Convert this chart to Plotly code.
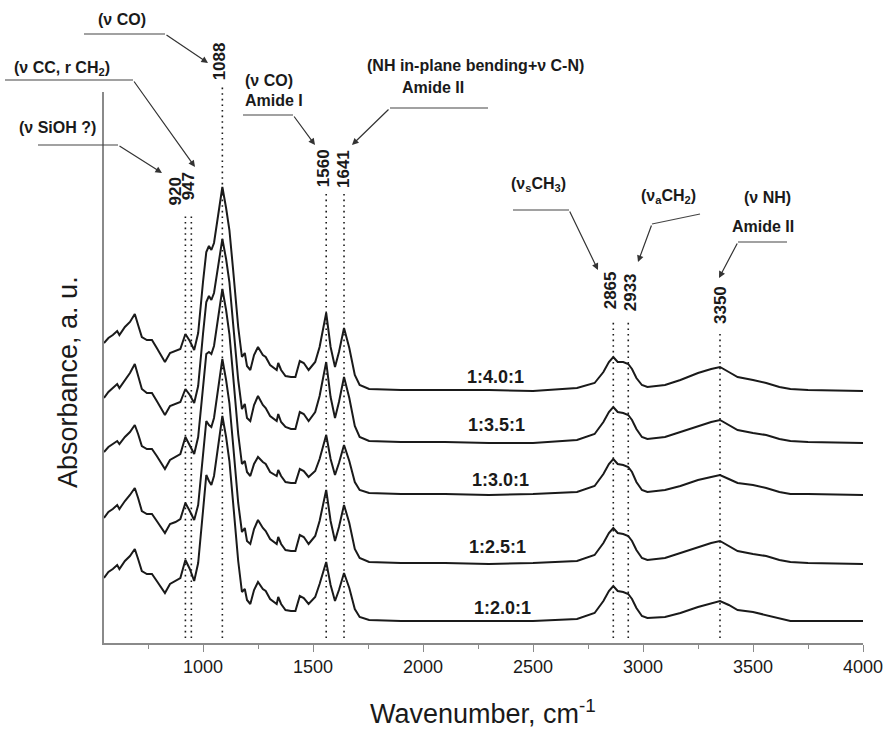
import plotly.graph_objects as go

# ---- spectral data (absorbance above each trace's own baseline, a.u.) ----
wavenumber = [
    550, 570, 590, 610, 620, 645, 668, 690, 705, 722,
    745, 768, 790, 827, 850, 875, 897, 920, 940, 960,
    978, 1000, 1015, 1027, 1038, 1050, 1065, 1088, 1105, 1120,
    1137, 1160, 1177, 1190, 1200, 1215, 1232, 1250, 1272, 1285,
    1305, 1335, 1342, 1355, 1375, 1400, 1420, 1440, 1458, 1480,
    1510, 1530, 1560, 1580, 1600, 1618, 1641, 1665, 1690, 1712,
    1755, 1900, 2100, 2300, 2500, 2700, 2780, 2820, 2845, 2865,
    2885, 2910, 2933, 2950, 2970, 2995, 3020, 3100, 3170, 3250,
    3310, 3350, 3390, 3430, 3500, 3560, 3620, 3670, 3750, 4000,
]

abs_1_40_1 = [
    0.47, 0.52, 0.55, 0.59, 0.55, 0.63, 0.68, 0.76, 0.65, 0.53,
    0.50, 0.50, 0.42, 0.28, 0.37, 0.39, 0.41, 0.56, 0.49, 0.40,
    0.57, 1.08, 1.38, 1.44, 1.40, 1.47, 1.70, 2.03, 1.82, 1.60,
    1.20, 0.63, 0.33, 0.37, 0.24, 0.20, 0.35, 0.43, 0.35, 0.33,
    0.25, 0.20, 0.27, 0.20, 0.14, 0.13, 0.13, 0.29, 0.27, 0.20,
    0.28, 0.43, 0.77, 0.43, 0.23, 0.38, 0.62, 0.42, 0.15, 0.05,
    0.01, 0.00, 0.00, 0.00, -0.01, 0.02, 0.07, 0.18, 0.28, 0.33,
    0.28, 0.28, 0.26, 0.21, 0.12, 0.05, 0.03, 0.05, 0.10, 0.17,
    0.21, 0.23, 0.18, 0.13, 0.10, 0.07, 0.03, 0.01, 0.00, -0.01,
]
abs_1_35_1 = [
    0.44, 0.50, 0.54, 0.58, 0.54, 0.62, 0.69, 0.78, 0.66, 0.53,
    0.49, 0.49, 0.41, 0.27, 0.36, 0.38, 0.40, 0.53, 0.47, 0.39,
    0.56, 1.08, 1.40, 1.46, 1.42, 1.49, 1.72, 2.03, 1.83, 1.60,
    1.18, 0.62, 0.33, 0.38, 0.24, 0.21, 0.37, 0.46, 0.37, 0.34,
    0.26, 0.21, 0.28, 0.20, 0.15, 0.13, 0.13, 0.30, 0.28, 0.21,
    0.30, 0.46, 0.80, 0.45, 0.24, 0.40, 0.65, 0.44, 0.16, 0.05,
    0.01, 0.00, 0.00, -0.01, -0.01, 0.02, 0.08, 0.20, 0.30, 0.35,
    0.30, 0.29, 0.27, 0.22, 0.13, 0.05, 0.03, 0.05, 0.10, 0.16,
    0.20, 0.22, 0.17, 0.12, 0.09, 0.07, 0.03, 0.01, 0.00, -0.01,
]
abs_1_30_1 = [
    0.42, 0.47, 0.50, 0.53, 0.50, 0.57, 0.62, 0.69, 0.60, 0.48,
    0.45, 0.45, 0.38, 0.25, 0.34, 0.37, 0.40, 0.57, 0.49, 0.40,
    0.57, 1.08, 1.40, 1.42, 1.40, 1.48, 1.72, 2.05, 1.84, 1.60,
    1.18, 0.60, 0.30, 0.33, 0.22, 0.18, 0.30, 0.37, 0.32, 0.30,
    0.22, 0.18, 0.24, 0.18, 0.12, 0.11, 0.11, 0.25, 0.23, 0.17,
    0.23, 0.35, 0.59, 0.35, 0.19, 0.31, 0.49, 0.33, 0.12, 0.04,
    0.01, 0.00, 0.00, -0.01, 0.00, 0.02, 0.08, 0.20, 0.30, 0.35,
    0.30, 0.29, 0.27, 0.22, 0.12, 0.04, 0.02, 0.04, 0.08, 0.14,
    0.17, 0.19, 0.15, 0.11, 0.09, 0.06, 0.02, 0.00, 0.00, -0.01,
]
abs_1_25_1 = [
    0.45, 0.51, 0.54, 0.58, 0.54, 0.62, 0.68, 0.75, 0.65, 0.52,
    0.49, 0.49, 0.42, 0.30, 0.39, 0.41, 0.44, 0.60, 0.52, 0.43,
    0.58, 1.10, 1.42, 1.38, 1.36, 1.45, 1.70, 2.04, 1.83, 1.60,
    1.18, 0.60, 0.31, 0.35, 0.22, 0.19, 0.34, 0.43, 0.35, 0.32,
    0.24, 0.19, 0.26, 0.19, 0.13, 0.12, 0.12, 0.28, 0.26, 0.19,
    0.27, 0.42, 0.73, 0.42, 0.22, 0.36, 0.58, 0.40, 0.14, 0.05,
    0.01, 0.00, 0.00, -0.01, 0.00, 0.02, 0.08, 0.20, 0.30, 0.35,
    0.30, 0.29, 0.27, 0.22, 0.13, 0.05, 0.03, 0.05, 0.10, 0.16,
    0.20, 0.22, 0.17, 0.12, 0.09, 0.07, 0.03, 0.01, 0.00, -0.01,
]
abs_1_20_1 = [
    0.43, 0.49, 0.52, 0.56, 0.52, 0.60, 0.65, 0.72, 0.62, 0.50,
    0.47, 0.47, 0.40, 0.28, 0.37, 0.40, 0.43, 0.61, 0.52, 0.40,
    0.58, 1.10, 1.46, 1.40, 1.36, 1.45, 1.70, 2.05, 1.84, 1.60,
    1.18, 0.60, 0.29, 0.32, 0.21, 0.17, 0.31, 0.39, 0.32, 0.30,
    0.22, 0.17, 0.24, 0.17, 0.11, 0.10, 0.10, 0.25, 0.23, 0.17,
    0.24, 0.37, 0.59, 0.36, 0.20, 0.31, 0.48, 0.33, 0.12, 0.04,
    0.01, 0.00, 0.00, 0.00, 0.00, 0.02, 0.08, 0.20, 0.30, 0.35,
    0.30, 0.29, 0.27, 0.22, 0.13, 0.05, 0.03, 0.04, 0.08, 0.14,
    0.18, 0.20, 0.16, 0.11, 0.09, 0.06, 0.03, 0.00, 0.00, 0.00,
]

ratio_labels = ["1:4.0:1", "1:3.5:1", "1:3.0:1", "1:2.5:1", "1:2.0:1"]
spectra = [abs_1_40_1, abs_1_35_1, abs_1_30_1, abs_1_25_1, abs_1_20_1]
stack_offsets = [2.53, 2.01, 1.49, 0.80, 0.22]
label_wavenumber = [2330, 2335, 2350, 2340, 2360]
label_lift = [0.13, 0.17, 0.14, 0.16, 0.13]

band_positions = [920, 947, 1088, 1560, 1641, 2865, 2933, 3350]

# ---- layout geometry ----
W, H = 887, 734
ML, MR, MT, MB = 104, 24, 92, 91
FONT = "Liberation Sans, Arial, sans-serif"
INK = "#1a1a1a"
AXIS = "#8a8a8a"


def paper(px, py):
    """Pixel position on the page -> paper coordinates."""
    return (px - ML) / (W - ML - MR), (H - MB - py) / (H - MT - MB)


def paper_y(py):
    return (H - MB - py) / (H - MT - MB)


fig = go.Figure()

for name, spec, off in zip(ratio_labels, spectra, stack_offsets):
    fig.add_trace(go.Scatter(
        x=wavenumber, y=[a + off for a in spec], mode="lines", name=name,
        line=dict(color=INK, width=2), hoverinfo="x+y+name",
    ))

annotations = []
shapes = []

# sample ratio labels sitting on each trace's baseline
for name, xw, off, lift in zip(ratio_labels, label_wavenumber, stack_offsets, label_lift):
    annotations.append(dict(
        x=xw, y=off + lift, xref="x", yref="y", text=f"<b>{name}</b>",
        showarrow=False, font=dict(family=FONT, size=18, color=INK),
        xanchor="center", yanchor="middle",
    ))

# dotted marker lines through the assigned bands (top end in page pixels)
band_line_top = {920: 213, 947: 213, 1088: 85, 1560: 192, 1641: 192,
                 2865: 322, 2933: 322, 3350: 333}
for b in band_positions:
    shapes.append(dict(
        type="line", xref="x", yref="paper", x0=b, x1=b,
        y0=paper_y(638), y1=paper_y(band_line_top[b]),
        line=dict(color=INK, width=1.6, dash="1.6px,4px"),
    ))

# rotated band values above the dotted lines: (centre y in px, x shift in px)
band_label_pos = {920: (191, -10), 947: (186, -3), 1088: (61, -3),
                  1560: (168, -3), 1641: (169, 0), 2865: (290, -3),
                  2933: (292, 2), 3350: (305, 0)}
for b in band_positions:
    cy, dx = band_label_pos[b]
    annotations.append(dict(
        x=b, y=paper_y(cy), xref="x", yref="paper", text=f"<b>{b}</b>",
        textangle=-90, showarrow=False, xshift=dx,
        font=dict(family=FONT, size=17, color=INK),
        xanchor="center", yanchor="middle",
    ))

# assignment call-outs: text blocks, leader lines and arrows (page pixels)
callout_text = [
    ("(ν CO)", 122, 20, "center"),
    ("(ν CC, r CH<sub>2</sub>)", 62, 68, "center"),
    ("(ν SiOH ?)", 57, 127, "center"),
    ("(ν CO)", 243, 80, "left"),
    ("Amide I", 243, 101, "left"),
    ("(NH in-plane bending+ν C-N)", 475, 65, "center"),
    ("Amide II", 433, 88, "center"),
    ("(ν<sub>s</sub>CH<sub>3</sub>)", 538, 184, "center"),
    ("(ν<sub>a</sub>CH<sub>2</sub>)", 668, 196, "center"),
    ("(ν NH)", 767, 197, "center"),
    ("Amide II", 763, 226, "center"),
]
for txt, px, py, anchor in callout_text:
    x, y = paper(px, py)
    annotations.append(dict(
        x=x, y=y, xref="paper", yref="paper", text=f"<b>{txt}</b>",
        showarrow=False, font=dict(family=FONT, size=16, color=INK),
        xanchor=anchor, yanchor="middle",
    ))

leader_lines = [
    ((84, 34), (165, 34)),
    ((5, 80), (133, 80)),
    ((38, 145), (118, 145)),
    ((243, 115), (293, 115)),
    ((390, 108), (488, 108)),
    ((513, 210), (569, 210)),
    ((652, 224), (700, 214)),
    ((738, 242), (787, 242)),
]
for (ax0, ay0), (ax1, ay1) in leader_lines:
    x0, y0 = paper(ax0, ay0)
    x1, y1 = paper(ax1, ay1)
    shapes.append(dict(type="line", xref="paper", yref="paper",
                       x0=x0, y0=y0, x1=x1, y1=y1,
                       line=dict(color="#444444", width=1.2)))

arrows = [
    ((165, 34), (208, 63)),
    ((133, 80), (195, 167)),
    ((118, 145), (162, 173)),
    ((293, 115), (315, 145)),
    ((390, 108), (352, 145)),
    ((569, 210), (598, 270)),
    ((652, 224), (638, 262)),
    ((738, 242), (719, 278)),
]
for (tx, ty), (hx, hy) in arrows:
    x, y = paper(hx, hy)
    annotations.append(dict(
        x=x, y=y, xref="paper", yref="paper", text="", showarrow=True,
        ax=tx - hx, ay=ty - hy, arrowhead=2, arrowsize=1.1,
        arrowwidth=1.2, arrowcolor="#333333", standoff=0, startstandoff=0,
    ))

# axis titles
tx, ty = paper(483, 712)
annotations.append(dict(
    x=tx, y=ty, xref="paper", yref="paper",
    text="Wavenumber, cm<sup>-1</sup>", showarrow=False,
    font=dict(family=FONT, size=27, color=INK), xanchor="center", yanchor="middle",
))
tx, ty = paper(68, 382)
annotations.append(dict(
    x=tx, y=ty, xref="paper", yref="paper", text="Absorbance, a. u.",
    textangle=-90, showarrow=False,
    font=dict(family=FONT, size=27, color=INK), xanchor="center", yanchor="middle",
))

fig.update_layout(
    template=None,
    width=W, height=H,
    margin=dict(l=ML, r=MR, t=MT, b=MB, pad=0, autoexpand=False),
    paper_bgcolor="white", plot_bgcolor="white",
    showlegend=False,
    annotations=annotations, shapes=shapes,
    xaxis=dict(
        range=[550, 4000], tick0=0, dtick=500, ticks="outside", ticklen=7,
        tickwidth=1.3, tickcolor=AXIS, showline=True, linecolor=AXIS, linewidth=1.5,
        showgrid=False, zeroline=False, automargin=False,
        tickfont=dict(family=FONT, size=18, color=INK),
        minor=dict(dtick=250, ticks="outside", ticklen=4, tickcolor=AXIS, showgrid=False),
    ),
    yaxis=dict(
        range=[0, 5.51], showticklabels=False, ticks="", showline=True,
        linecolor=AXIS, linewidth=1.5, showgrid=False, zeroline=False,
        automargin=False,
    ),
)

fig.write_html("out.html")
